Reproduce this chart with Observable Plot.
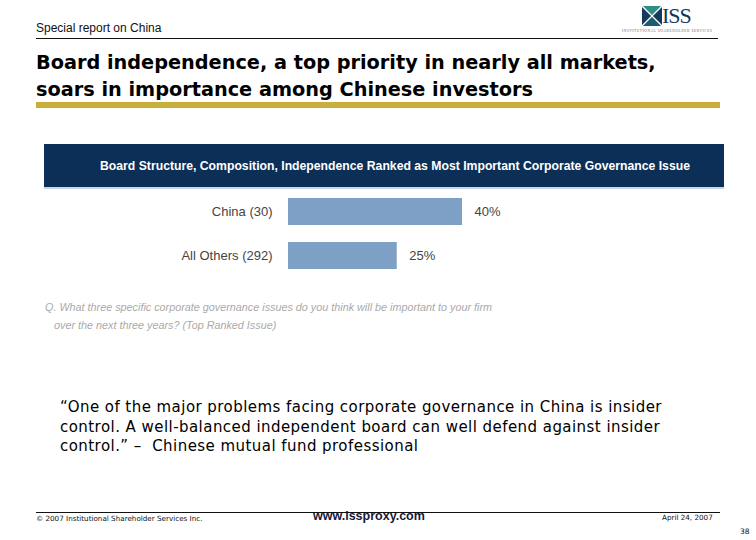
<!DOCTYPE html>
<html>
<head>
<meta charset="utf-8">
<script src="https://cdn.jsdelivr.net/npm/d3@7"></script>
<script src="https://cdn.jsdelivr.net/npm/@observablehq/plot@0.6"></script>
<style>
  html, body { margin: 0; padding: 0; background: #fff; }
  #page { position: relative; width: 756px; height: 540px; overflow: hidden; background: #fff; }
  .abs { position: absolute; white-space: nowrap; }
</style>
</head>
<body>
<div id="page">
  <div class="abs" style="left:36px;top:21px;font:12px 'Liberation Sans',Arial,sans-serif;color:#111;">Special report on China</div>
  <div class="abs" style="left:36px;top:38px;width:682px;height:1px;background:#111;"></div>

  <!-- ISS logo -->
  <svg class="abs" style="left:642px;top:6px" width="20" height="20" viewBox="0 0 20 20">
    <rect x="0" y="0" width="20" height="20" fill="#123a5c"/>
    <polygon points="0,0 20,0 10,10" fill="#2f8f86"/>
    <polygon points="0,20 20,20 10,10" fill="#1d5b6e"/>
    <line x1="0" y1="0" x2="20" y2="20" stroke="#fff" stroke-width="1.3"/>
    <line x1="20" y1="0" x2="0" y2="20" stroke="#fff" stroke-width="1.3"/>
  </svg>
  <div class="abs" style="left:662px;top:3px;font:22px 'Liberation Serif','DejaVu Serif',serif;color:#123a5c;letter-spacing:-1px;">ISS</div>
  <div class="abs" style="left:622px;top:29px;font:3.5px 'Liberation Serif',serif;color:#666;letter-spacing:0.6px;">INSTITUTIONAL SHAREHOLDER SERVICES</div>

  <div class="abs" style="left:36px;top:49px;font:bold 19.3px 'DejaVu Sans',Verdana,sans-serif;line-height:27px;color:#000;">Board independence, a top priority in nearly all markets,<br>soars in importance among Chinese investors</div>
  <div class="abs" style="left:36px;top:102px;width:684px;height:6px;background:#c9ae3b;"></div>

  <!-- chart header -->
  <div class="abs" style="left:44px;top:144px;width:680px;height:43px;background:#0c2f58;"></div>
  <div class="abs" style="left:44px;top:187px;width:680px;height:2px;background:#c9d6e5;"></div>
  <div class="abs" style="left:100px;top:158px;font:bold 13.5px 'Liberation Sans',Arial,sans-serif;color:#fff;transform:scaleX(0.905);transform-origin:0 0;">Board Structure, Composition, Independence Ranked as Most Important Corporate Governance Issue</div>

  <div id="chart" class="abs" style="left:44px;top:181px;"></div>

  <div class="abs" style="left:45px;top:298px;font:italic 10.8px 'Liberation Sans',Arial,sans-serif;line-height:18px;color:#aaa;">Q. What three specific corporate governance issues do you think will be important to your firm<br>&nbsp;&nbsp;&nbsp;over the next three years? (Top Ranked Issue)</div>

  <div class="abs" style="left:60px;top:398px;font:15px 'DejaVu Sans',Tahoma,sans-serif;letter-spacing:0.45px;line-height:19.5px;color:#000;">“One of the major problems facing corporate governance in China is insider<br>control. A well-balanced independent board can well defend against insider<br>control.” –&nbsp; Chinese mutual fund professional</div>

  <!-- footer -->
  <div class="abs" style="left:36px;top:512px;width:684px;height:1px;background:#111;"></div>
  <div class="abs" style="left:36px;top:514px;font:7.2px 'DejaVu Sans',Tahoma,sans-serif;color:#111;">© 2007 Institutional Shareholder Services Inc.</div>
  <div class="abs" style="left:313px;top:509px;font:bold 12.5px 'Liberation Sans',Arial,sans-serif;color:#151a3c;">www.issproxy.com</div>
  <div class="abs" style="left:662px;top:513px;font:7.2px 'DejaVu Sans',Tahoma,sans-serif;color:#111;">April 24, 2007</div>
  <div class="abs" style="left:740px;top:527px;font:7.5px 'DejaVu Sans',Tahoma,sans-serif;color:#111;">38</div>
</div>

<script>
const categories = ["China (30)", "All Others (292)"];
const values = [40, 25];
const valueLabels = ["40%", "25%"];

const data = categories.map((c, i) => ({ cat: c, value: values[i], label: valueLabels[i] }));

const chart = Plot.plot({
  width: 680,
  height: 105,
  marginLeft: 244,
  marginRight: 1,
  marginTop: 0,
  marginBottom: 0,
  x: { domain: [0, 100], axis: null },
  y: { domain: categories, padding: 0.386, axis: null },
  style: { fontFamily: "'Liberation Sans', Arial, sans-serif", background: "transparent", overflow: "visible" },
  marks: [
    Plot.barX(data, { x: "value", y: "cat", fill: "#7ea0c6" }),
    Plot.text(data, { x: 0, y: "cat", text: "cat", textAnchor: "end", dx: -16, fill: "#444", fontSize: 13 }),
    Plot.text(data, { x: "value", y: "cat", text: "label", textAnchor: "start", dx: 12, fill: "#444", fontSize: 13 })
  ]
});
document.getElementById("chart").appendChild(chart);
</script>
</body>
</html>
